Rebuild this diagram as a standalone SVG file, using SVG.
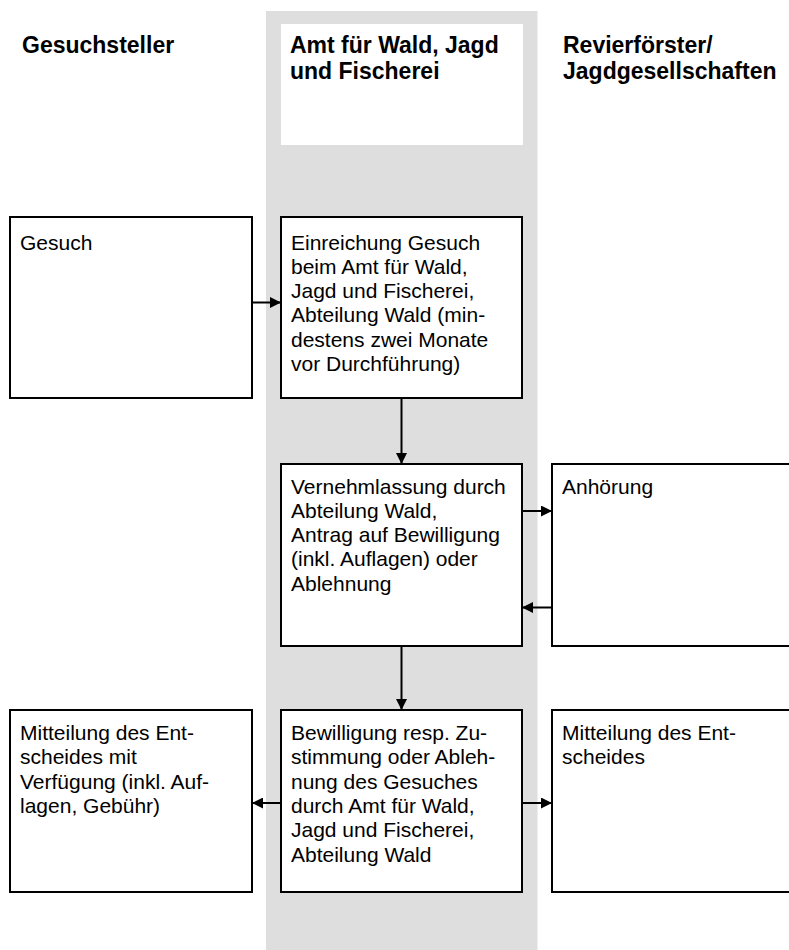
<svg xmlns="http://www.w3.org/2000/svg" width="789" height="950" viewBox="0 0 789 950">
<defs>
<style>
.box{fill:#fff;stroke:#000;stroke-width:2}
.t{font-family:"Liberation Sans",Arial,sans-serif;font-size:21px;fill:#000}
.h{font-family:"Liberation Sans",Arial,sans-serif;font-size:23px;font-weight:bold;fill:#000}
.c{stroke:#000;stroke-width:2;fill:none}
</style>
<marker id="ah" viewBox="0 0 10 10" refX="10" refY="5" markerWidth="5.5" markerHeight="5.5" markerUnits="strokeWidth" orient="auto">
<path d="M0,0 L10,5 L0,10 z" fill="#000"/>
</marker>
</defs>
<rect x="0" y="0" width="789" height="950" fill="#fff"/>
<rect id="lane" x="266" y="11" width="271.5" height="939" fill="#dedede"/>
<g id="headers">
<rect x="281" y="24" width="242" height="121" fill="#fff"/>
<text class="h" x="22" y="53">Gesuchsteller</text>
<text class="h" x="290" y="53">Amt für Wald, Jagd</text>
<text class="h" x="290" y="79">und Fischerei</text>
<text class="h" x="563" y="53">Revierförster/</text>
<text class="h" x="563" y="79">Jagdgesellschaften</text>
</g>
<g id="gesuch">
<rect class="box" x="10" y="217" width="242" height="181"/>
<text class="t" x="20" y="249.5">Gesuch</text>
</g>
<g id="einreichung">
<rect class="box" x="281" y="217" width="241" height="181"/>
<text class="t" x="291" y="249.5">Einreichung Gesuch</text>
<text class="t" x="291" y="273.8">beim Amt für Wald,</text>
<text class="t" x="291" y="298.1">Jagd und Fischerei,</text>
<text class="t" x="291" y="322.4">Abteilung Wald (min-</text>
<text class="t" x="291" y="346.7">destens zwei Monate</text>
<text class="t" x="291" y="371">vor Durchführung)</text>
</g>
<g id="vernehmlassung">
<rect class="box" x="281" y="464" width="241" height="182"/>
<text class="t" x="291" y="493.5">Vernehmlassung durch</text>
<text class="t" x="291" y="517.8">Abteilung Wald,</text>
<text class="t" x="291" y="542.1">Antrag auf Bewilligung</text>
<text class="t" x="291" y="566.4">(inkl. Auflagen) oder</text>
<text class="t" x="291" y="590.7">Ablehnung</text>
</g>
<g id="anhoerung">
<rect class="box" x="552" y="464" width="250" height="182"/>
<text class="t" x="562" y="493.5">Anhörung</text>
</g>
<g id="mitteilung-gesuchsteller">
<rect class="box" x="10" y="710" width="242" height="182"/>
<text class="t" x="20" y="740">Mitteilung des Ent-</text>
<text class="t" x="20" y="764.3">scheides mit</text>
<text class="t" x="20" y="788.6">Verfügung (inkl. Auf-</text>
<text class="t" x="20" y="812.9">lagen, Gebühr)</text>
</g>
<g id="bewilligung">
<rect class="box" x="281" y="710" width="241" height="182"/>
<text class="t" x="291" y="740">Bewilligung resp. Zu-</text>
<text class="t" x="291" y="764.3">stimmung oder Ableh-</text>
<text class="t" x="291" y="788.6">nung des Gesuches</text>
<text class="t" x="291" y="812.9">durch Amt für Wald,</text>
<text class="t" x="291" y="837.2">Jagd und Fischerei,</text>
<text class="t" x="291" y="861.5">Abteilung Wald</text>
</g>
<g id="mitteilung-revier">
<rect class="box" x="552" y="710" width="250" height="182"/>
<text class="t" x="562" y="740">Mitteilung des Ent-</text>
<text class="t" x="562" y="764.3">scheides</text>
</g>
<g id="connectors">
<line class="c" x1="252" y1="302.5" x2="281" y2="302.5" marker-end="url(#ah)"/>
<line class="c" x1="401.5" y1="398" x2="401.5" y2="464" marker-end="url(#ah)"/>
<line class="c" x1="522" y1="511" x2="552" y2="511" marker-end="url(#ah)"/>
<line class="c" x1="552" y1="607.5" x2="522" y2="607.5" marker-end="url(#ah)"/>
<line class="c" x1="401.5" y1="646" x2="401.5" y2="710" marker-end="url(#ah)"/>
<line class="c" x1="281" y1="803" x2="252" y2="803" marker-end="url(#ah)"/>
<line class="c" x1="522" y1="803" x2="552" y2="803" marker-end="url(#ah)"/>
</g>
</svg>
